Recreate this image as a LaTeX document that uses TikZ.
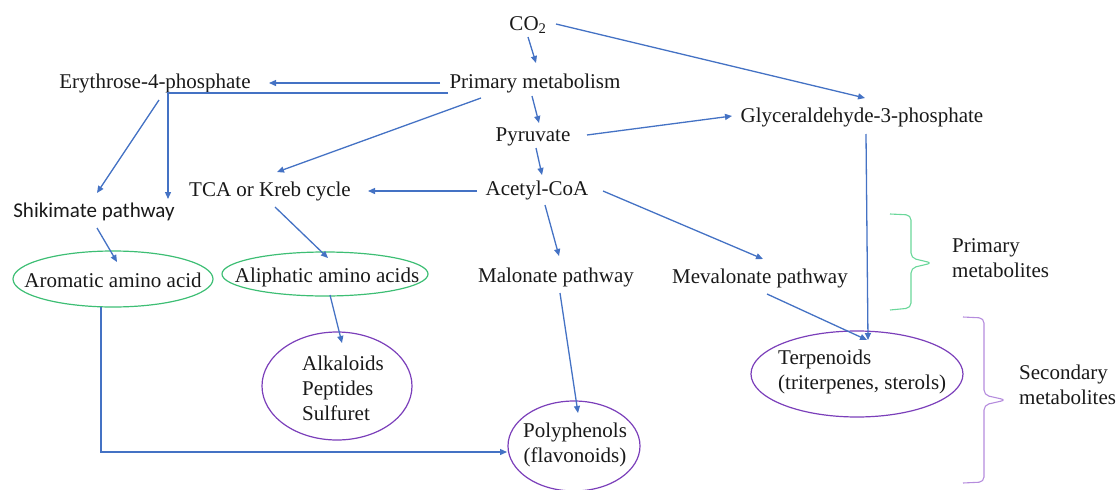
\documentclass[tikz,border=0pt]{standalone}
\usepackage{fontspec}
\setmainfont{Liberation Serif}
\newfontfamily\tnr{Liberation Serif}
\newfontfamily\calib{Carlito}
\usetikzlibrary{arrows.meta,shapes.geometric}
\definecolor{ablue}{HTML}{4472C4}
\definecolor{egreen}{HTML}{3DBE74}
\definecolor{bgreen}{HTML}{6AD79A}
\definecolor{epurple}{HTML}{7B3FBA}
\definecolor{bpurple}{HTML}{B58CDD}
\begin{document}
\begin{tikzpicture}[x=1pt,y=-1pt,
  txt/.style={inner sep=1pt, font=\tnr\fontsize{21}{25}\selectfont, text=black!90},
  arr/.style={draw=ablue, line width=1.3pt, -{Triangle[length=7pt,width=6pt]}},
  ell/.style={ellipse, draw, line width=1.2pt, inner sep=0pt},
  brace/.style={line width=1.1pt, rounded corners=5pt}
]
\useasboundingbox (0,0) rectangle (1120,490);

% text nodes
\node[txt] (co2) at (528,25) {CO\textsubscript{2}};
\node[txt] (pm) at (535,83) {Primary metabolism};
\node[txt] (ery) at (155,83) {Erythrose-4-phosphate};
\node[txt] (pyr) at (533,137) {Pyruvate};
\node[txt] (glyc) at (862,117) {Glyceraldehyde-3-phosphate};
\node[txt] (tca) at (270,191) {TCA or Kreb cycle};
\node[txt] (acetyl) at (537,190) {Acetyl-CoA};
\node[txt, font=\calib\fontsize{21}{25}\selectfont] (shik) at (94,212) {Shikimate pathway};
\node[txt] (mal) at (556,277) {Malonate pathway};
\node[txt] (mev) at (760,278) {Mevalonate pathway};

% ellipses
\node[ell, draw=egreen, minimum width=200pt, minimum height=56pt] (arom) at (113,279) {};
\node[txt] (aromtxt) at (113,280) {Aromatic amino acid};
\node[ell, draw=egreen, minimum width=206pt, minimum height=44pt] (aliph) at (325,274) {};
\node[txt] (aliphtxt) at (327,277) {Aliphatic amino acids};
\node[ell, draw=epurple, minimum width=150pt, minimum height=108pt] (alk) at (337,386) {};
\node[txt, align=left, anchor=west] (alktxt) at (301,388) {Alkaloids\\Peptides\\Sulfuret};
\node[ell, draw=epurple, minimum width=132pt, minimum height=90pt] (poly) at (574,446) {};
\node[txt, align=center] (polytxt) at (575,445) {Polyphenols\\(flavonoids)};
\node[ell, draw=epurple, minimum width=212pt, minimum height=86pt] (terp) at (857,374) {};
\node[txt, align=left, anchor=west] (terptxt) at (777,372) {Terpenoids\\(triterpenes, sterols)};

% braces and their labels
\draw[brace, draw=bgreen] (890,214) -- (911,215) -- (911,258) -- (932,263) -- (911,268) -- (911,308) -- (890,310);
\node[txt, align=left, anchor=west] (prim) at (951,258) {Primary\\metabolites};
\draw[brace, draw=bpurple] (963,317) -- (984,318) -- (984,395) -- (1006,400) -- (984,405) -- (984,482) -- (963,483);
\node[txt, align=left, anchor=west] (sec) at (1018,385) {Secondary\\metabolites};

% connectors
\draw[arr] ([shift={(0,12)}]co2.center) -- ([shift={(1,-20)}]pm.center);
\draw[arr] ([shift={(28,-1)}]co2.center) -- ([shift={(3,-19)}]glyc.center);
\draw[arr] ([shift={(-95,0)}]pm.center) -- ([shift={(114,0)}]ery.center);
\draw[arr] ([shift={(-87,10)}]pm.center) -| ([shift={(74,-13)}]shik.center);
\draw[arr] ([shift={(4,17)}]ery.center) -- ([shift={(3,-19)}]shik.center);
\draw[arr] ([shift={(-54,15)}]pm.center) -- ([shift={(7,-19)}]tca.center);
\draw[arr] ([shift={(-3,13)}]pm.center) -- ([shift={(6,-14)}]pyr.center);
\draw[arr] ([shift={(54,-2)}]pyr.center) -- ([shift={(-130,-1)}]glyc.center);
\draw[arr] ([shift={(4,17)}]glyc.center) -- ([shift={(11,-34)}]terp.center);
\draw[arr] ([shift={(3,11)}]pyr.center) -- ([shift={(5,-15)}]acetyl.center);
\draw[arr] ([shift={(-60,1)}]acetyl.center) -- ([shift={(98,0)}]tca.center);
\draw[arr] ([shift={(8,15)}]acetyl.center) -- ([shift={(3,-21)}]mal.center);
\draw[arr] ([shift={(66,1)}]acetyl.center) -- ([shift={(3,-19)}]mev.center);
\draw[arr] ([shift={(3,16)}]shik.center) -- ([shift={(4,-17)}]arom.center);
\draw[arr] ([shift={(5,16)}]tca.center) -- ([shift={(3,-16)}]aliph.center);
\draw[arr] ([shift={(5,21)}]aliph.center) -- ([shift={(5,-43)}]alk.center);
\draw[arr] ([shift={(4,16)}]mal.center) -- ([shift={(4,-33)}]poly.center);
\draw[arr] ([shift={(7,16)}]mev.center) -- ([shift={(10,-34)}]terp.center);
\draw[arr] ([shift={(-12,28)}]arom.center) |- ([shift={(-67,6)}]poly.center);
\end{tikzpicture}
\end{document}
